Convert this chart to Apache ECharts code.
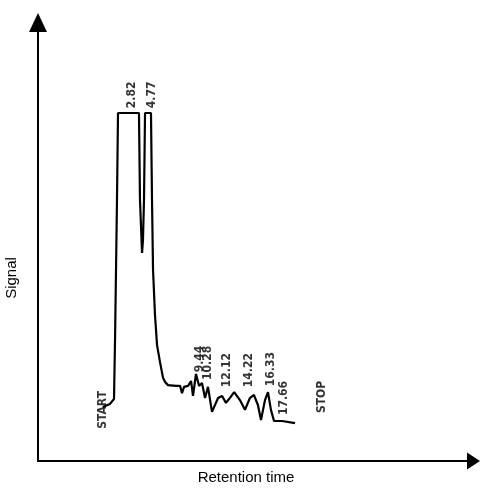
<!DOCTYPE html>
<html>
<head>
<meta charset="utf-8">
<script src="https://cdn.jsdelivr.net/npm/echarts@6/dist/echarts.min.js"></script>
<style>
  html, body { margin: 0; padding: 0; background: #fff; }
  #chart { width: 482px; height: 489px; }
</style>
</head>
<body>
<div id="chart"></div>
<script>
// Chromatogram trace: retention time (min) and detector signal (arbitrary units, 100 = detector ceiling)
var traceTime = [0.0, 0.71, 1.10, 1.20, 1.39, 1.49, 3.53, 3.63, 3.83, 3.92, 4.02, 4.12, 4.70, 4.80, 4.90,
  5.09, 5.29, 5.58, 5.87, 6.07, 6.36, 7.14, 7.53, 7.72, 7.92, 8.31, 8.60, 8.79, 9.08, 9.38, 9.67, 9.96,
  10.25, 10.64, 11.23, 11.62, 12.0, 12.3, 12.8, 13.36, 13.85, 14.33, 14.72, 15.11, 15.41, 15.8, 16.09,
  16.38, 16.68, 17.46, 18.72];
var traceSignal = [15.5, 16.4, 17.8, 34.8, 75, 100, 100, 75, 59.8, 63.5, 75, 100, 100, 75, 54.9,
  42, 33.3, 28.4, 23.9, 22.7, 21.8, 21.6, 21.6, 19.5, 21.3, 21.6, 23, 18.7, 25, 21.6, 22.4, 18.1,
  21.3, 14.1, 18.1, 18.7, 16.7, 17.8, 19.8, 17.5, 14.7, 18.1, 19, 16.1, 11.8, 17.5, 19.8,
  14.7, 11.5, 11.5, 10.9];

// Event marks printed along the run: start, integrated peaks, stop
var eventTimes = [0.0, 2.82, 4.77, 9.44, 10.28, 12.12, 14.22, 16.33, 17.66, 21.35];
var eventTexts = ['START', '2.82', '4.77', '9.44', '10.28', '12.12', '14.22', '16.33', '17.66', 'STOP'];

// Height (signal units) at which each printed mark is centred
var tagLevel = [14.7, 105.2, 105.2, 29.3, 28.2, 26.1, 26.1, 26.4, 18.1, 18.4];

var tracePoints = traceTime.map(function (t, i) { return [t, traceSignal[i]]; });
var eventPoints = eventTimes.map(function (t, i) {
  return { value: [t, tagLevel[i]], name: eventTexts[i] };
});

var chart = echarts.init(document.getElementById('chart'), null, { renderer: 'canvas' });

var axisLineStyle = { color: '#000', width: 2 };

chart.setOption({
  animation: false,
  backgroundColor: '#fff',
  grid: { left: 38, right: 8.5, top: 22.5, bottom: 28, containLabel: false },
  xAxis: {
    type: 'value',
    min: -6.3,
    max: 36.1,
    axisLine: { show: true, onZero: false, lineStyle: axisLineStyle, symbol: ['none', 'triangle'], symbolSize: [17, 13] },
    axisTick: { show: false },
    axisLabel: { show: false },
    splitLine: { show: false }
  },
  yAxis: {
    type: 'value',
    min: 0,
    max: 126,
    axisLine: { show: true, onZero: false, lineStyle: axisLineStyle, symbol: ['none', 'triangle'], symbolSize: [18, 19] },
    axisTick: { show: false },
    axisLabel: { show: false },
    splitLine: { show: false }
  },
  graphic: [
    {
      type: 'text',
      x: 246, y: 478,
      style: { text: 'Retention time', font: '15px "Liberation Sans", Arial, sans-serif', fill: '#000',
               textAlign: 'center', textVerticalAlign: 'middle' }
    },
    {
      type: 'text',
      x: 12, y: 278,
      rotation: Math.PI / 2,
      style: { text: 'Signal', font: '15px "Liberation Sans", Arial, sans-serif', fill: '#000',
               textAlign: 'center', textVerticalAlign: 'middle' }
    }
  ],
  series: [
    {
      type: 'line',
      data: tracePoints,
      showSymbol: false,
      symbol: 'none',
      lineStyle: { color: '#000', width: 2.2 },
      silent: true,
      z: 3
    },
    {
      type: 'scatter',
      data: eventPoints,
      symbolSize: 0,
      silent: true,
      label: {
        show: true,
        position: 'inside',
        rotate: 90,
        align: 'center',
        verticalAlign: 'middle',
        formatter: function (p) { return p.name; },
        color: '#000',
        fontSize: 12,
        fontWeight: 'bold',
        fontFamily: '"DejaVu Sans Condensed", "Liberation Sans Narrow", "DejaVu Sans", sans-serif'
      },
      z: 4
    }
  ]
});
</script>
</body>
</html>
